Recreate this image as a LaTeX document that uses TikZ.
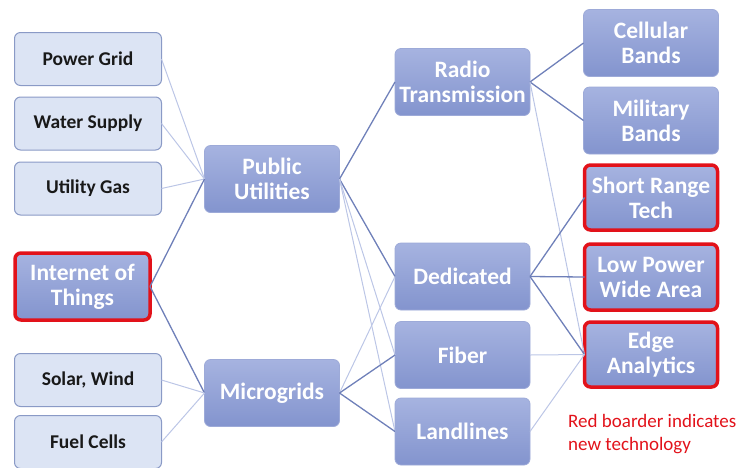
\documentclass[tikz,border=0pt]{standalone}
\usepackage{fontspec}
\setmainfont{Carlito}
\usepackage{tikz}
\usetikzlibrary{positioning}
\usepackage{xcolor}
\definecolor{leaffill}{HTML}{DCE4F4}
\definecolor{leafdraw}{HTML}{8A9AC6}
\definecolor{hubtop}{HTML}{A6B3E0}
\definecolor{hubbot}{HTML}{8394CE}
\definecolor{hubdraw}{HTML}{9DAAD8}
\definecolor{newred}{HTML}{E2121A}
\definecolor{linkdark}{HTML}{6F80B9}
\definecolor{linklight}{HTML}{BCC6E6}

\begin{document}
\begin{tikzpicture}[x=1pt, y=-1pt,
      leaf/.style={draw=leafdraw, fill=leaffill, rounded corners=6pt, line width=1pt,
                   minimum width=147pt, minimum height=53pt, align=center,
                   inner sep=2pt, outer sep=0pt,
                   font=\fontsize{19.5}{22}\selectfont\bfseries, text=black!90},
      hub/.style={draw=hubdraw, top color=hubtop, bottom color=hubbot, rounded corners=6pt,
                  line width=0.8pt, minimum width=135pt, minimum height=67pt, align=center,
                  inner sep=2pt, outer sep=0pt,
                  font=\fontsize{23.5}{25}\selectfont\bfseries, text=white},
      newtech/.style={draw=newred, line width=3.5pt},
      link/.style={draw=linkdark, line width=1.3pt},
      faint/.style={draw=linklight, line width=1pt}]
    \useasboundingbox (0,0) rectangle (747,467);

    % sources
    \node[leaf] (grid)  at (88,59)    {Power Grid};
    \node[leaf] (water) at (88,123.5) {Water Supply};
    \node[leaf] (gas)   at (88,188.5) {Utility Gas};
    \node[hub, newtech, minimum width=135pt, minimum height=67pt] (iot) at (82.5,286.5) {Internet of\\Things};
    \node[leaf] (solar) at (88,380)   {Solar, Wind};
    \node[leaf] (fuel)  at (88,442)   {Fuel Cells};

    % distribution
    \node[hub] (public) at (272,179) {Public\\Utilities};
    \node[hub] (micro)  at (272,393) {Microgrids};

    % transport
    \node[hub] (radio)  at (462.5,82)    {Radio\\Transmission};
    \node[hub] (dedic)  at (462.5,276.5) {Dedicated};
    \node[hub] (fiber)  at (462.5,355)   {Fiber};
    \node[hub] (land)   at (462.5,431.5) {Landlines};

    % end technologies
    \node[hub] (cell)  at (651,43)    {Cellular\\Bands};
    \node[hub] (mil)   at (651,120.5) {Military\\Bands};
    \node[hub, newtech, minimum width=133pt, minimum height=65pt] (short) at (651,197.5) {Short Range\\Tech};
    \node[hub, newtech, minimum width=133pt, minimum height=66pt] (lpwa)  at (651,277)   {Low Power\\Wide Area};
    \node[hub, newtech, minimum width=133pt, minimum height=65pt] (edge)  at (651,354.5) {Edge\\Analytics};

    \node[anchor=north west, align=left, text=newred, inner sep=0pt,
          font=\fontsize{19}{23}\selectfont] (note) at (568,414)
      {Red boarder indicates\\new technology};

    \draw[faint] (grid.east)  -- (public.west);
    \draw[faint] (water.east) -- (public.west);
    \draw[faint] (gas.east)   -- (public.west);
    \draw[link]  (iot.east)   -- (public.west);
    \draw[link]  (iot.east)   -- (micro.west);
    \draw[faint] (solar.east) -- (micro.west);
    \draw[faint] (fuel.east)  -- (micro.west);

    \draw[link]  (public.east) -- (radio.west);
    \draw[link]  (public.east) -- (dedic.west);
    \draw[faint] (public.east) -- (fiber.west);
    \draw[faint] (public.east) -- (land.west);
    \draw[faint] (micro.east)  -- (dedic.west);
    \draw[link]  (micro.east)  -- (fiber.west);
    \draw[link]  (micro.east)  -- (land.west);

    \draw[link]  (radio.east) -- (cell.west);
    \draw[link]  (radio.east) -- (mil.west);
    \draw[faint] (radio.east) -- (edge.west);
    \draw[link]  (dedic.east) -- (short.west);
    \draw[link]  (dedic.east) -- (lpwa.west);
    \draw[link]  (dedic.east) -- (edge.west);
    \draw[faint] (fiber.east) -- (edge.west);
    \draw[faint] (land.east)  -- (edge.west);
  \end{tikzpicture}
\end{document}
